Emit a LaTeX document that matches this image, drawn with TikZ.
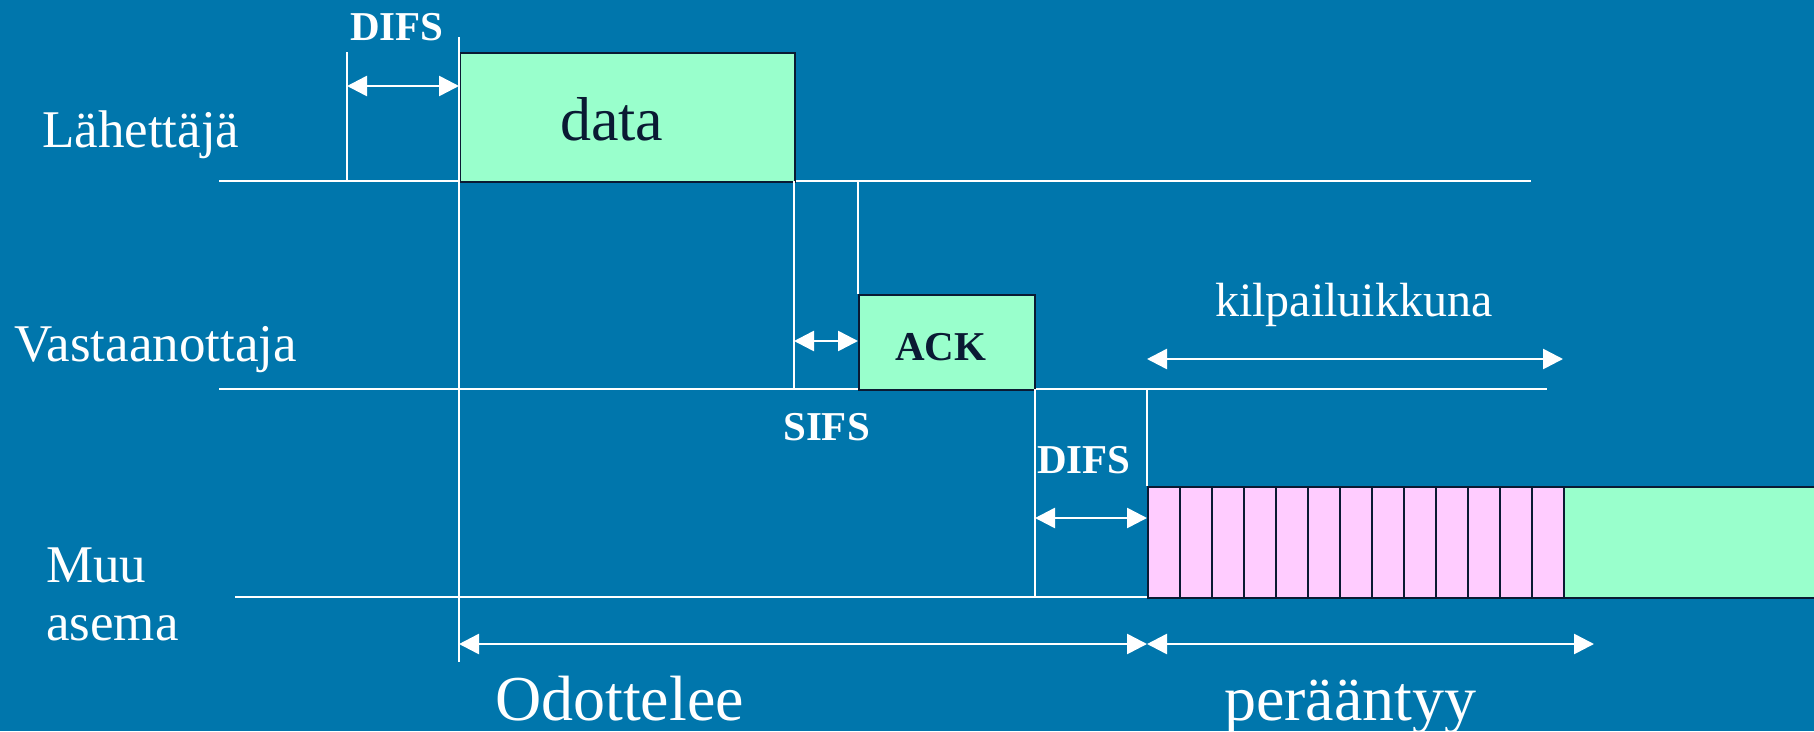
\documentclass[tikz,border=0pt]{standalone}
\usepackage{fontspec}
\setmainfont{Liberation Serif}
\usetikzlibrary{arrows.meta}
\definecolor{bg}{HTML}{0076AC}
\definecolor{boxgreen}{HTML}{99FFCC}
\definecolor{boxpink}{HTML}{FFCCFF}
\definecolor{navy}{HTML}{0A1A33}
\begin{document}
\begin{tikzpicture}[x=1pt,y=-1pt,
  wline/.style={white, line width=2pt},
  dim/.style={white, line width=2.6pt, {Triangle[length=20pt,width=20pt]}-{Triangle[length=20pt,width=20pt]}},
  frame/.style={draw=navy, line width=2pt, inner sep=0pt, anchor=north west},
  lbl/.style={text=white, font=\fontsize{53}{58}\selectfont, inner sep=0pt, anchor=base west},
  blbl/.style={text=white, font=\bfseries\fontsize{41}{41}\selectfont, inner sep=0pt, anchor=base west},
  big/.style={text=white, font=\fontsize{64}{64}\selectfont, inner sep=0pt, anchor=base west}]
\useasboundingbox (0,0) rectangle (1814,731);
\clip (0,0) rectangle (1814,731);
\fill[bg] (0,0) rectangle (1814,731);

% coordinates
\coordinate (s0) at (219,181); \coordinate (s1) at (1531,181);
\coordinate (r0) at (219,389); \coordinate (r1) at (1547,389);
\coordinate (m0) at (235,597); \coordinate (m1) at (1450,597);
\coordinate (d0t) at (347,52);  \coordinate (d0b) at (347,181);
\coordinate (t0t) at (459,37);  \coordinate (t0b) at (459,662);
\coordinate (e0t) at (794,181); \coordinate (e0b) at (794,389);
\coordinate (a0t) at (858,181); \coordinate (a0b) at (858,294);
\coordinate (k0t) at (1035,389); \coordinate (k0b) at (1035,597);
\coordinate (c0t) at (1147,389); \coordinate (c0b) at (1147,486);

% time lines
\draw[wline] (s0) -- (s1);
\draw[wline] (r0) -- (r1);
\draw[wline] (m0) -- (m1);

% frames
\node[frame, fill=boxgreen, minimum width=335pt, minimum height=129pt] (data) at (459,52) {};
\node[frame, fill=boxgreen, minimum width=176pt, minimum height=95pt] (ack) at (858,294) {};
\foreach \i in {0,...,12}
  \node[frame, fill=boxpink, minimum width=32pt, minimum height=111pt] (slot\i) at (1147+32*\i,486) {};
\node[frame, fill=boxgreen, minimum width=270pt, minimum height=111pt] (tx) at (1563,486) {};

% vertical markers
\draw[wline] (d0t) -- (d0b);
\draw[wline] (t0t) -- (t0b);
\draw[wline] (e0t) -- (e0b);
\draw[wline] (a0t) -- (a0b);
\draw[wline] (k0t) -- (k0b);
\draw[wline] (c0t) -- (c0b);

% dimension arrows
\coordinate (difs1a) at (347,86);  \coordinate (difs1b) at (459,86);
\coordinate (sifsa) at (794,341);  \coordinate (sifsb) at (858,341);
\coordinate (difs2a) at (1035,518); \coordinate (difs2b) at (1147,518);
\coordinate (kwa) at (1147,359);   \coordinate (kwb) at (1563,359);
\coordinate (oda) at (459,644);    \coordinate (odb) at (1147,644);
\coordinate (pea) at (1147,644);   \coordinate (peb) at (1594,644);
\draw[dim] (difs1a) -- (difs1b);
\draw[dim] (sifsa) -- (sifsb);
\draw[dim] (difs2a) -- (difs2b);
\draw[dim] (kwa) -- (kwb);
\draw[dim] (oda) -- (odb);
\draw[dim] (pea) -- (peb);

% texts
\node[inner sep=0pt, anchor=base west, text=navy, font=\fontsize{62}{62}\selectfont] (datatxt) at (560,140) {data};
\node[inner sep=0pt, anchor=base west, text=navy, font=\bfseries\fontsize{41}{41}\selectfont] (acktxt) at (895,360) {ACK};
\node[blbl] (difs1) at (350,40) {DIFS};
\node[blbl] (sifs) at (783,440) {SIFS};
\node[blbl] (difs2) at (1037,473) {DIFS};
\node[lbl] (sender) at (42,147) {Lähettäjä};
\node[lbl] (receiver) at (14,361) {Vastaanottaja};
\node[lbl] (muu) at (46,582) {Muu};
\node[lbl] (asema) at (46,640) {asema};
\node[text=white, inner sep=0pt, anchor=base west, font=\fontsize{48}{48}\selectfont] (kw) at (1215,316) {kilpailuikkuna};
\node[big] (odot) at (495,720) {Odottelee};
\node[big] (peraa) at (1224,720) {perääntyy};
\end{tikzpicture}
\end{document}
